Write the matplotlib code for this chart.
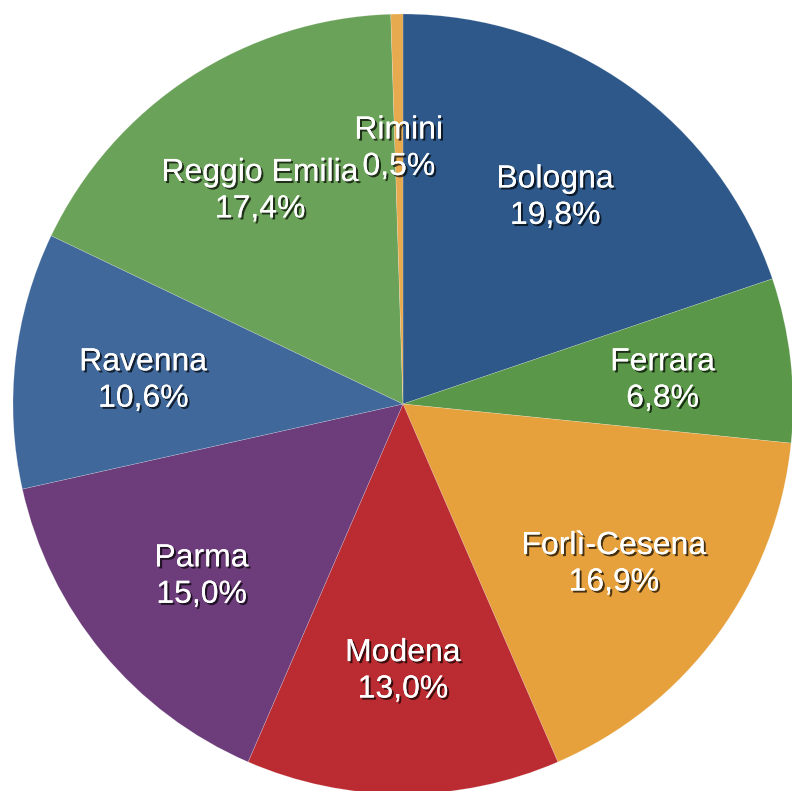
import matplotlib
matplotlib.use("Agg")
import matplotlib.pyplot as plt
import matplotlib.patheffects as pe

# province shares (%), clockwise from 12 o'clock
provinces = ["Bologna", "Ferrara", "Forlì-Cesena", "Modena", "Parma",
             "Ravenna", "Reggio Emilia", "Rimini"]
shares = [19.8, 6.8, 16.9, 13.0, 15.0, 10.6, 17.4, 0.5]
colors = ["#2D5889", "#5A9748", "#E6A13D", "#BA2C31", "#6D3D7B",
          "#40689B", "#6BA259", "#E8AA4E"]

labels = [f"{p}\n{s:.1f}%".replace(".", ",") for p, s in zip(provinces, shares)]

W, H = 792, 791
fig = plt.figure(figsize=(W / 100, H / 100), dpi=100)
ax = fig.add_axes([0, 0, 1, 1])

# pie centre and radius in pixels
cx, cy, r = 403, 404, 390

shadow = [pe.withSimplePatchShadow(offset=(1.5, -1.5), shadow_rgbFace="black", alpha=0.7),
          pe.Normal()]

wedges, texts = ax.pie(shares, labels=labels, colors=colors, startangle=90,
                       counterclock=False, labeldistance=0.67,
                       wedgeprops=dict(edgecolor=(1, 1, 1, 0.3), linewidth=0.4),
                       textprops=dict(ha="center", va="center", color="white",
                                      fontsize=23, family=["Liberation Sans", "DejaVu Sans"],
                                      linespacing=1.28))
for t in texts:
    x, y = t.get_position()
    t.set_position((x, y - 6 / r))  # labels sit a touch lower in the original
    t.set_path_effects(shadow)

ax.set_xlim(-cx / r, (W - cx) / r)
ax.set_ylim(-(H - cy) / r, cy / r)
ax.set_aspect("auto")
ax.axis("off")

fig.savefig("out.png", dpi=100)
